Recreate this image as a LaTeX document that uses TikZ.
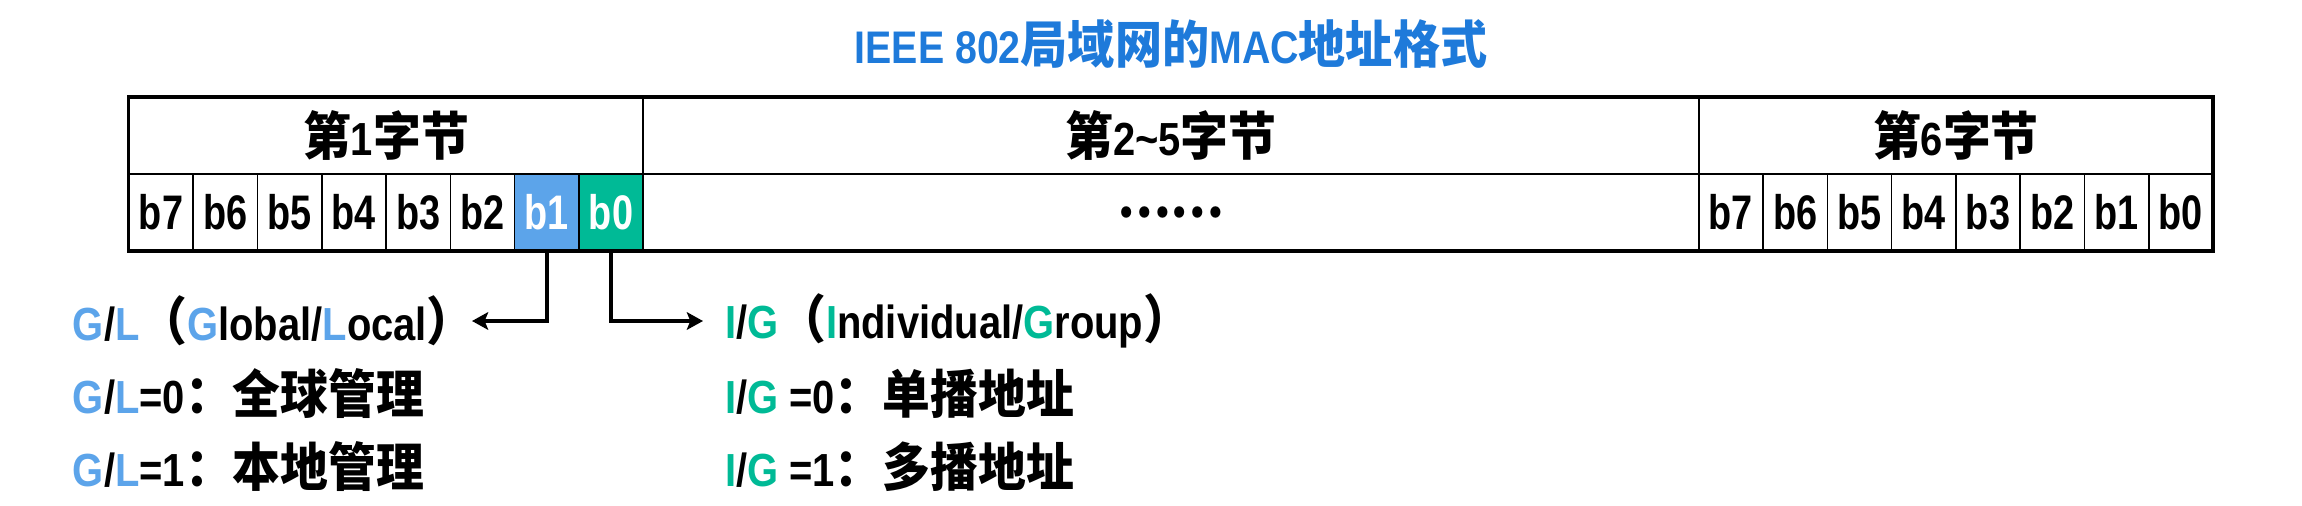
\documentclass[tikz,border=0pt]{standalone}
\usepackage{fontspec}
\setmainfont{Liberation Sans}[FakeStretch=0.86]
\newfontfamily\cjk{Noto Sans CJK SC Bold}[FakeStretch=0.92, Scale=1.12]
\newfontfamily\bitfont{Liberation Sans}[FakeStretch=0.78]
\usetikzlibrary{positioning,arrows.meta}
\definecolor{titleblue}{RGB}{30,122,218}
\definecolor{glblue}{RGB}{92,164,234}
\definecolor{iggreen}{RGB}{0,186,150}
\newcommand\zh[1]{{\cjk #1}}
\newcommand\glc[1]{\textcolor{glblue}{#1}}
\newcommand\igc[1]{\textcolor{iggreen}{#1}}
\begin{document}
\begin{tikzpicture}[x=0.01cm, y=-0.01cm, node distance=0pt,
  every node/.style={font=\fontsize{13.2pt}{16pt}\selectfont\bfseries, inner sep=0pt, outer sep=0pt},
  bytebox/.style={draw, line width=0.7pt, minimum height=0.77cm},
  bitbox/.style={draw, line width=0.45pt, minimum width=0.6425cm, minimum height=0.77cm, font=\fontsize{13.8pt}{16pt}\selectfont\bitfont\bfseries},
  note/.style={anchor=west},
  conn/.style={line width=1.15pt, -{Stealth[length=4.6pt,width=5pt,inset=1pt]}}]
\useasboundingbox (0,0) rectangle (2302,506);
\node[font=\fontsize{13pt}{16pt}\selectfont\bfseries, text=titleblue] (title) at (1171,44) {IEEE 802\zh{局域网的}MAC\zh{地址格式}};
% Bytes
\node[bytebox, minimum width=5.14cm] (byte1) at (386,135.5) {\zh{第}1\zh{字节}};
\node[bytebox, minimum width=10.55cm, right=of byte1] (byte25) {\zh{第}2\textasciitilde5\zh{字节}};
\node[bytebox, minimum width=5.14cm, right=of byte25] (byte6) {\zh{第}6\zh{字节}};
% Bits of byte 1
\node[bitbox, below right=of byte1.south west] (a7) {b7};
\node[bitbox, right=of a7] (a6) {b6};
\node[bitbox, right=of a6] (a5) {b5};
\node[bitbox, right=of a5] (a4) {b4};
\node[bitbox, right=of a4] (a3) {b3};
\node[bitbox, right=of a3] (a2) {b2};
\node[bitbox, right=of a2, fill=glblue, text=white] (a1) {b1};
\node[bitbox, right=of a1, fill=iggreen, text=white] (a0) {b0};
\node[bytebox, minimum width=10.55cm, below=of byte25] (dots) {\zh{……}};
% Bits of byte 6
\node[bitbox, below right=of byte6.south west] (f7) {b7};
\node[bitbox, right=of f7] (f6) {b6};
\node[bitbox, right=of f6] (f5) {b5};
\node[bitbox, right=of f5] (f4) {b4};
\node[bitbox, right=of f4] (f3) {b3};
\node[bitbox, right=of f3] (f2) {b2};
\node[bitbox, right=of f2] (f1) {b1};
\node[bitbox, right=of f1] (f0) {b0};
\draw[line width=0.9pt] (byte1.north west) rectangle (f0.south east);
% Notes
\node[note] (gl) at (73,321) {\glc{G}/\glc{L}\zh{（}\glc{G}lobal/\glc{L}ocal\zh{）}};
\node[note] (gl0) at (73,394) {\glc{G}/\glc{L}=0\zh{：全球管理}};
\node[note] (gl1) at (73,467) {\glc{G}/\glc{L}=1\zh{：本地管理}};
\node[note] (ig) at (725,321) {\igc{I}/\igc{G}\zh{（}\igc{I}ndividual/\igc{G}roup\zh{）}};
\node[note] (ig0) at (725,394) {\igc{I}/\igc{G} =0\zh{：单播地址}};
\node[note] (ig1) at (725,467) {\igc{I}/\igc{G} =1\zh{：多播地址}};
% Arrows
\coordinate (gltip) at (472,321);
\coordinate (igtip) at (703,321);
\draw[conn] (a1.south) |- (gltip);
\draw[conn] (a0.south) |- (igtip);
\end{tikzpicture}
\end{document}
